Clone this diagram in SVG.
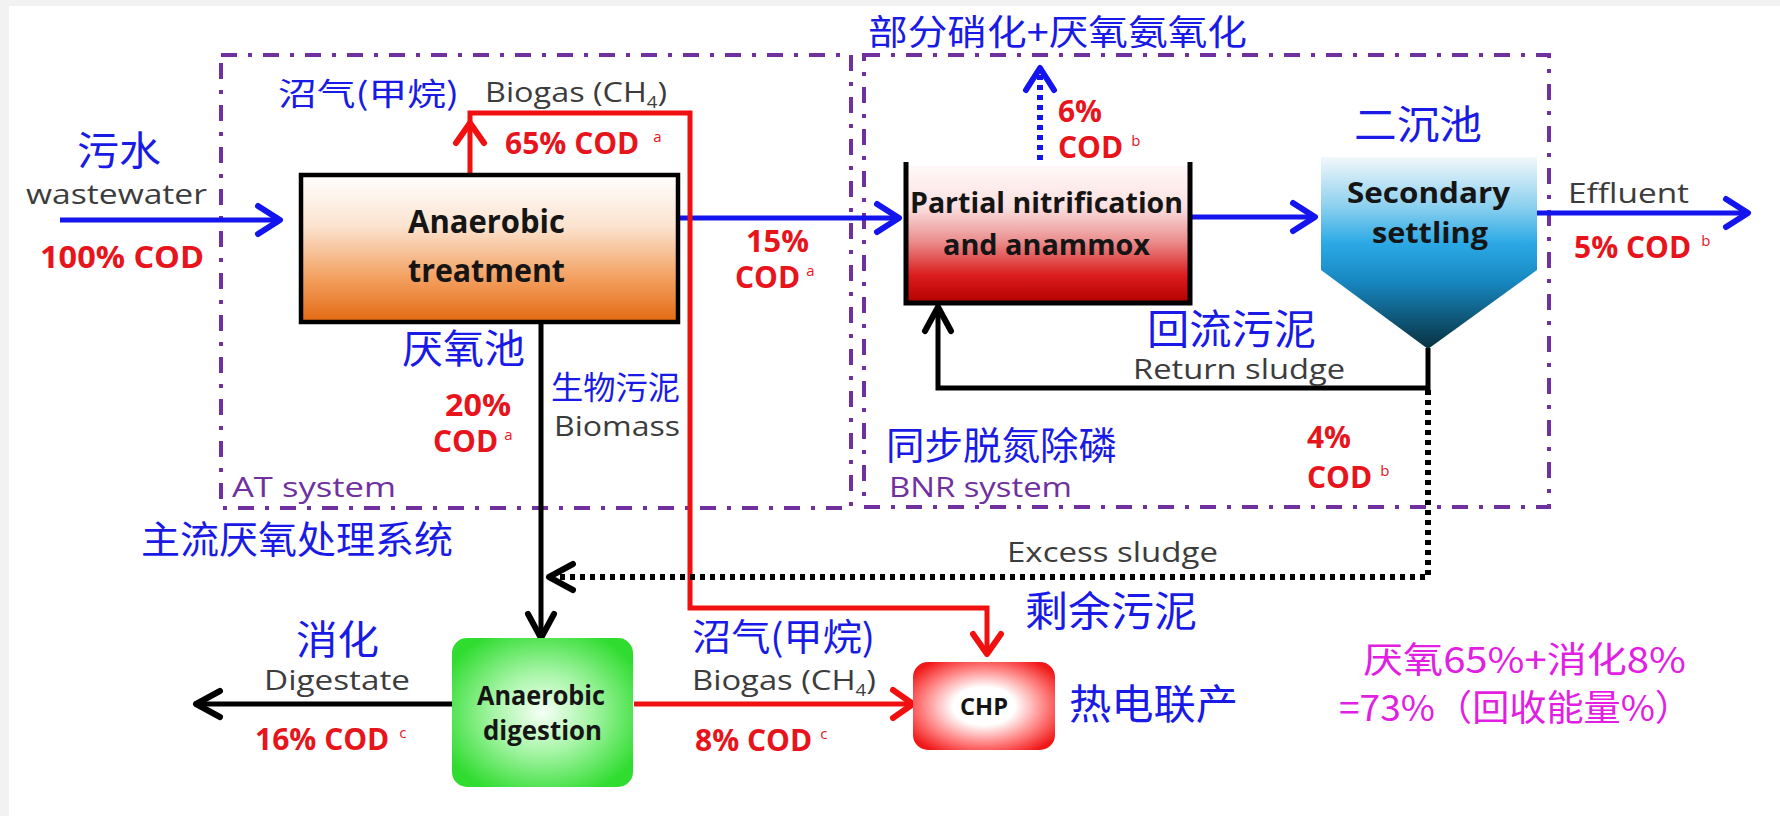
<svg xmlns="http://www.w3.org/2000/svg" width="1780" height="816" viewBox="0 0 1780 816">
  <defs>
    <linearGradient id="g-at" x1="0" y1="0" x2="0" y2="1">
      <stop offset="0" stop-color="#ffffff"/>
      <stop offset="0.35" stop-color="#fbe3cf"/>
      <stop offset="0.7" stop-color="#f3a060"/>
      <stop offset="1" stop-color="#e36a12"/>
    </linearGradient>
    <linearGradient id="g-pn" x1="0" y1="0" x2="0" y2="1">
      <stop offset="0" stop-color="#fff8f8"/>
      <stop offset="0.3" stop-color="#fbe0e0"/>
      <stop offset="0.55" stop-color="#eb8d8d"/>
      <stop offset="0.8" stop-color="#da1c1c"/>
      <stop offset="1" stop-color="#b40000"/>
    </linearGradient>
    <linearGradient id="g-ss" x1="0" y1="0" x2="0" y2="1">
      <stop offset="0" stop-color="#f2f8fb"/>
      <stop offset="0.25" stop-color="#8fd1ef"/>
      <stop offset="0.45" stop-color="#2ba9e5"/>
      <stop offset="0.65" stop-color="#1787c0"/>
      <stop offset="1" stop-color="#08303f"/>
    </linearGradient>
    <radialGradient id="g-ad" cx="0.5" cy="0.5" r="0.6">
      <stop offset="0" stop-color="#f6fff6"/>
      <stop offset="0.45" stop-color="#a6f5a6"/>
      <stop offset="1" stop-color="#2fdc2f"/>
    </radialGradient>
    <radialGradient id="g-chp" cx="0.5" cy="0.5" r="0.62">
      <stop offset="0" stop-color="#ffffff"/>
      <stop offset="0.35" stop-color="#ffffff"/>
      <stop offset="0.7" stop-color="#ff8080"/>
      <stop offset="1" stop-color="#f01818"/>
    </radialGradient>
    <marker id="ah-blue" markerUnits="userSpaceOnUse" orient="auto" overflow="visible" markerWidth="30" markerHeight="30" refX="0" refY="0">
      <path d="M-22,-14 L0,0 L-22,14" fill="none" stroke="#1414ee" stroke-width="6" stroke-linecap="round" stroke-linejoin="round"/>
    </marker>
    <marker id="ah-red" markerUnits="userSpaceOnUse" orient="auto" overflow="visible" markerWidth="30" markerHeight="30" refX="0" refY="0">
      <path d="M-20,-14 L0,0 L-20,14" fill="none" stroke="#f01010" stroke-width="6" stroke-linecap="round" stroke-linejoin="round"/>
    </marker>
    <marker id="ah-black" markerUnits="userSpaceOnUse" orient="auto" overflow="visible" markerWidth="30" markerHeight="30" refX="0" refY="0">
      <path d="M-24,-13 L0,0 L-24,13" fill="none" stroke="#000000" stroke-width="6" stroke-linecap="round" stroke-linejoin="round"/>
    </marker>
    <style>
      .lat { font-family: "Open Sans", "Liberation Sans", sans-serif; }
      .cjk { font-family: "Noto Sans CJK SC", "Noto Sans", sans-serif; }
      .gray { fill: #3c3c3c; font-size: 28px; }
      .cod { fill: #e8141c; font-size: 30px; font-weight: bold; }
      .sup { fill: #e8141c; font-size: 15px; }
      .zh { fill: #1a1ae6; }
      .sys { fill: #7030a0; font-size: 28px; }
      .inbox { fill: #151515; font-weight: bold; }
      .mag { fill: #e21ee2; font-size: 36px; }
      .frame { fill: none; stroke: #7030a0; stroke-width: 4; stroke-dasharray: 16 11 4 11; }
      .blue { fill: none; stroke: #1414ee; stroke-width: 5; }
      .red { fill: none; stroke: #f01010; stroke-width: 5; }
      .blk { fill: none; stroke: #000000; stroke-width: 5; }
      .dot { stroke-dasharray: 5 5; stroke-width: 6; }
    </style>
  </defs>

  <!-- page -->
  <rect x="0" y="0" width="1780" height="816" fill="#f2f2f2"/>
  <rect x="9" y="6" width="1771" height="810" fill="#ffffff"/>

  <!-- system boundaries -->
  <g id="at-system">
    <rect class="frame" x="221" y="55" width="630" height="453"/>
    <text class="lat sys" x="232" y="497" textLength="164" lengthAdjust="spacingAndGlyphs">AT system</text>
  </g>
  <g id="bnr-system">
    <rect class="frame" x="864" y="55" width="685" height="452"/>
    <text class="lat sys" x="889" y="497" textLength="183" lengthAdjust="spacingAndGlyphs">BNR system</text>
  </g>

  <!-- flows -->
  <g id="connectors">
    <!-- wastewater in -->
    <line class="blue" x1="60" y1="220" x2="280" y2="220" marker-end="url(#ah-blue)"/>
    <!-- AT effluent to PN/A -->
    <line class="blue" x1="679" y1="218" x2="899" y2="218" marker-end="url(#ah-blue)"/>
    <!-- PN/A to settler -->
    <line class="blue" x1="1191" y1="217" x2="1315" y2="217" marker-end="url(#ah-blue)"/>
    <!-- effluent -->
    <line class="blue" x1="1537" y1="213" x2="1748" y2="213" marker-end="url(#ah-blue)"/>
    <!-- N2 release -->
    <line class="blue dot" x1="1040" y1="160" x2="1040" y2="68" marker-end="url(#ah-blue)"/>
    <!-- AT biogas to CHP -->
    <polyline class="red" points="470,175 470,113 690,113 690,608 987,608 987,654" marker-end="url(#ah-red)"/>
    <path d="M456,143 L470,123 L484,143" fill="none" stroke="#f01010" stroke-width="6" stroke-linecap="round" stroke-linejoin="round"/>
    <!-- biomass to digester -->
    <line class="blk" x1="541" y1="323" x2="541" y2="638" marker-end="url(#ah-black)"/>
    <!-- return sludge -->
    <polyline class="blk" points="1428,348 1428,388 938,388 938,307" marker-end="url(#ah-black)"/>
    <!-- excess sludge -->
    <polyline class="blk dot" points="1428,390 1428,577 549,577" marker-end="url(#ah-black)"/>
    <!-- digestate out -->
    <line class="blk" x1="452" y1="704" x2="196" y2="704" marker-end="url(#ah-black)"/>
    <!-- digester biogas to CHP -->
    <line class="red" x1="634" y1="704" x2="913" y2="704" marker-end="url(#ah-red)"/>
  </g>

  <!-- anaerobic treatment -->
  <g id="anaerobic-treatment">
    <rect x="301" y="175" width="377" height="147" fill="url(#g-at)" stroke="#000000" stroke-width="4.5"/>
    <text class="lat inbox" font-size="32" x="408" y="233" textLength="157" lengthAdjust="spacingAndGlyphs">Anaerobic</text>
    <text class="lat inbox" font-size="32" x="408" y="282" textLength="157" lengthAdjust="spacingAndGlyphs">treatment</text>
  </g>

  <!-- partial nitrification / anammox tank -->
  <g id="pn-anammox">
    <rect x="906" y="166" width="284" height="137" fill="url(#g-pn)"/>
    <polyline points="906,162 906,303 1190,303 1190,162" fill="none" stroke="#000000" stroke-width="5"/>
    <text class="lat inbox" font-size="28" x="910" y="213" textLength="273" lengthAdjust="spacingAndGlyphs">Partial nitrification</text>
    <text class="lat inbox" font-size="28" x="943" y="255" textLength="207" lengthAdjust="spacingAndGlyphs">and anammox</text>
  </g>

  <!-- secondary settler -->
  <g id="secondary-settling">
    <polygon points="1321,157 1537,157 1537,270 1428,349 1321,270" fill="url(#g-ss)"/>
    <text class="lat inbox" font-size="28" x="1347" y="203" textLength="163" lengthAdjust="spacingAndGlyphs">Secondary</text>
    <text class="lat inbox" font-size="28" x="1372" y="243" textLength="116" lengthAdjust="spacingAndGlyphs">settling</text>
  </g>

  <!-- anaerobic digestion -->
  <g id="anaerobic-digestion">
    <rect x="452" y="638" width="181" height="149" rx="15" fill="url(#g-ad)"/>
    <text class="lat inbox" font-size="26" x="477" y="705" textLength="128" lengthAdjust="spacingAndGlyphs">Anaerobic</text>
    <text class="lat inbox" font-size="26" x="483" y="740" textLength="119" lengthAdjust="spacingAndGlyphs">digestion</text>
  </g>

  <!-- combined heat and power -->
  <g id="chp">
    <rect x="913" y="662" width="142" height="88" rx="15" fill="url(#g-chp)"/>
    <text class="lat inbox" font-size="24" x="960" y="715" textLength="48" lengthAdjust="spacingAndGlyphs">CHP</text>
  </g>

  <!-- flow labels -->
  <g id="labels">
    <text class="cjk zh" font-size="40" x="77" y="165" textLength="84" lengthAdjust="spacingAndGlyphs">污水</text>
    <text class="lat gray" font-size="27" x="26" y="204" textLength="181" lengthAdjust="spacingAndGlyphs">wastewater</text>
    <text class="lat cod" font-size="32" x="40" y="268" textLength="164" lengthAdjust="spacingAndGlyphs">100% COD</text>

    <text class="cjk zh" font-size="31" x="278" y="105" textLength="181" lengthAdjust="spacingAndGlyphs">沼气(甲烷)</text>
    <text class="lat gray" x="485" y="102" textLength="182" lengthAdjust="spacingAndGlyphs">Biogas (CH<tspan font-size="16" dy="6">4</tspan><tspan dy="-6">)</tspan></text>
    <text class="lat cod" x="505" y="154">65% COD<tspan class="sup" font-weight="normal" dx="14" dy="-12">a</tspan></text>

    <text class="lat cod" x="746" y="252" textLength="63" lengthAdjust="spacingAndGlyphs">15%</text>
    <text class="lat cod" x="735" y="288">COD<tspan class="sup" font-weight="normal" dx="6" dy="-12">a</tspan></text>

    <text class="cjk zh" font-size="40" x="402" y="363" textLength="123" lengthAdjust="spacingAndGlyphs">厌氧池</text>
    <text class="cjk zh" font-size="32" x="551" y="399" textLength="129" lengthAdjust="spacingAndGlyphs">生物污泥</text>
    <text class="lat gray" x="554" y="436" textLength="126" lengthAdjust="spacingAndGlyphs">Biomass</text>
    <text class="lat cod" x="445" y="416" textLength="66" lengthAdjust="spacingAndGlyphs">20%</text>
    <text class="lat cod" x="433" y="452">COD<tspan class="sup" font-weight="normal" dx="6" dy="-12">a</tspan></text>

    <text class="cjk zh" font-size="38" x="141" y="553" textLength="312" lengthAdjust="spacingAndGlyphs">主流厌氧处理系统</text>

    <text class="cjk zh" font-size="40" x="296" y="654" textLength="83" lengthAdjust="spacingAndGlyphs">消化</text>
    <text class="lat gray" x="264" y="690" textLength="146" lengthAdjust="spacingAndGlyphs">Digestate</text>
    <text class="lat cod" x="255" y="750">16% COD<tspan class="sup" font-weight="normal" dx="10" dy="-12">c</tspan></text>

    <text class="cjk zh" font-size="37" x="692" y="651" textLength="183" lengthAdjust="spacingAndGlyphs">沼气(甲烷)</text>
    <text class="lat gray" x="692" y="690" textLength="184" lengthAdjust="spacingAndGlyphs">Biogas (CH<tspan font-size="16" dy="6">4</tspan><tspan dy="-6">)</tspan></text>
    <text class="lat cod" x="695" y="751">8% COD<tspan class="sup" font-weight="normal" dx="8" dy="-12">c</tspan></text>

    <text class="cjk zh" font-size="35" x="868" y="45" textLength="379" lengthAdjust="spacingAndGlyphs">部分硝化+厌氧氨氧化</text>
    <text class="lat cod" x="1058" y="122" textLength="44" lengthAdjust="spacingAndGlyphs">6%</text>
    <text class="lat cod" x="1058" y="158">COD<tspan class="sup" font-weight="normal" dx="8" dy="-12">b</tspan></text>

    <text class="cjk zh" font-size="40" x="1354" y="139" textLength="128" lengthAdjust="spacingAndGlyphs">二沉池</text>
    <text class="lat gray" x="1568" y="203" textLength="121" lengthAdjust="spacingAndGlyphs">Effluent</text>
    <text class="lat cod" x="1574" y="258">5% COD<tspan class="sup" font-weight="normal" dx="10" dy="-12">b</tspan></text>

    <text class="cjk zh" font-size="41" x="1147" y="344" textLength="169" lengthAdjust="spacingAndGlyphs">回流污泥</text>
    <text class="lat gray" x="1133" y="379" textLength="212" lengthAdjust="spacingAndGlyphs">Return sludge</text>

    <text class="cjk zh" font-size="38" x="886" y="459" textLength="231" lengthAdjust="spacingAndGlyphs">同步脱氮除磷</text>
    <text class="lat cod" x="1307" y="448" textLength="44" lengthAdjust="spacingAndGlyphs">4%</text>
    <text class="lat cod" x="1307" y="488">COD<tspan class="sup" font-weight="normal" dx="8" dy="-12">b</tspan></text>

    <text class="lat gray" x="1007" y="562" textLength="211" lengthAdjust="spacingAndGlyphs">Excess sludge</text>
    <text class="cjk zh" font-size="41" x="1025" y="626" textLength="172" lengthAdjust="spacingAndGlyphs">剩余污泥</text>
    <text class="cjk zh" font-size="41" x="1069" y="719" textLength="169" lengthAdjust="spacingAndGlyphs">热电联产</text>

    <text class="cjk mag" x="1363" y="673" textLength="323" lengthAdjust="spacingAndGlyphs">厌氧65%+消化8%</text>
    <text class="cjk mag" x="1339" y="721" textLength="353" lengthAdjust="spacingAndGlyphs">=73%（回收能量%）</text>
  </g>
</svg>
